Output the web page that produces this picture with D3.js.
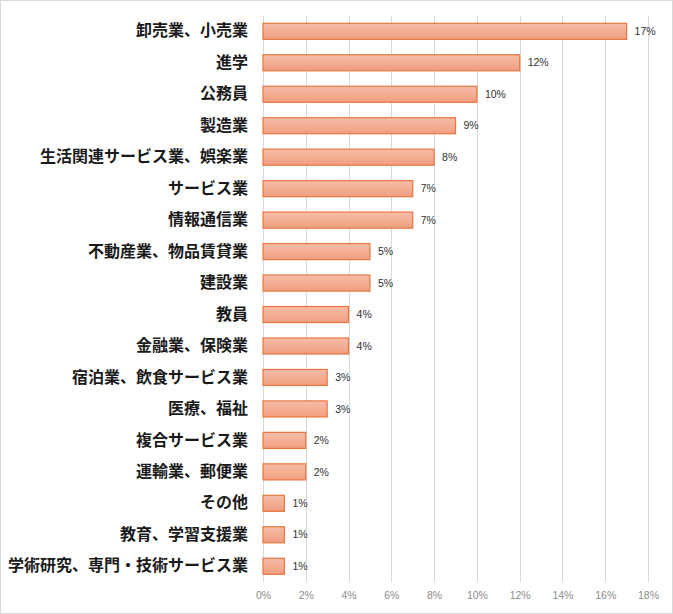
<!DOCTYPE html>
<html>
<head>
<meta charset="utf-8">
<script src="https://cdn.jsdelivr.net/npm/d3@7"></script>
<style>
  body { margin: 0; background: #fff; }
  svg { display: block; }
  .cat text { font-family: "Noto Sans CJK JP", sans-serif; font-weight: bold; font-size: 16px; fill: #1a1a1a; }
  .xaxis text { font-family: "Liberation Sans Narrow", "Liberation Sans", sans-serif; font-size: 10.5px; fill: #8c8c8c; }
  .vlabel { font-family: "Liberation Sans Narrow", "Liberation Sans", sans-serif; font-size: 10.5px; fill: #303030; }
</style>
</head>
<body>
<div id="chart"></div>
<script>
// categories, top to bottom
var categories = ["卸売業、小売業", "進学", "公務員", "製造業", "生活関連サービス業、娯楽業",
  "サービス業", "情報通信業", "不動産業、物品賃貸業", "建設業", "教員", "金融業、保険業",
  "宿泊業、飲食サービス業", "医療、福祉", "複合サービス業", "運輸業、郵便業", "その他",
  "教育、学習支援業", "学術研究、専門・技術サービス業"];
var values = [17, 12, 10, 9, 8, 7, 7, 5, 5, 4, 4, 3, 3, 2, 2, 1, 1, 1];
var ticks = [0, 2, 4, 6, 8, 10, 12, 14, 16, 18];

function draw() {
  const width = 673, height = 614;
  const left = 263, right = 648, top = 15.6, bottom = 582;

  const svg = d3.select("#chart").append("svg")
    .attr("width", width)
    .attr("height", height);

  // outer frame
  svg.append("rect")
    .attr("x", 0.5).attr("y", 0.5)
    .attr("width", width - 1).attr("height", height - 1)
    .attr("fill", "#fff").attr("stroke", "#d9d9d9");

  const defs = svg.append("defs");
  const grad = defs.append("linearGradient")
    .attr("id", "barfill").attr("x1", 0).attr("y1", 0).attr("x2", 0).attr("y2", 1);
  grad.append("stop").attr("offset", "0%").attr("stop-color", "#f6bda8");
  grad.append("stop").attr("offset", "100%").attr("stop-color", "#f09e80");

  const x = d3.scaleLinear().domain([0, 18]).range([left, right]);
  const y = d3.scaleBand().domain(categories).range([top, bottom])
    .paddingInner(0.49).paddingOuter(0.245);

  // gridlines
  svg.append("g").selectAll("line")
    .data(ticks)
    .enter().append("line")
    .attr("x1", d => Math.round(x(d)) + 0.5)
    .attr("x2", d => Math.round(x(d)) + 0.5)
    .attr("y1", top).attr("y2", bottom)
    .attr("stroke", "#d9d9d9");

  // x axis labels
  const xAxis = d3.axisBottom(x).tickValues(ticks).tickSize(0).tickPadding(10)
    .tickFormat(d => d + "%");
  const xg = svg.append("g").attr("class", "xaxis")
    .attr("transform", "translate(0," + bottom + ")")
    .call(xAxis);
  xg.select(".domain").remove();

  // category labels
  const yAxis = d3.axisLeft(y).tickSize(0).tickPadding(15);
  const yg = svg.append("g").attr("class", "cat")
    .attr("transform", "translate(" + left + ",0)")
    .call(yAxis);
  yg.select(".domain").remove();

  // bars
  svg.append("g").selectAll("rect")
    .data(values)
    .enter().append("rect")
    .attr("x", x(0))
    .attr("y", (d, i) => y(categories[i]))
    .attr("width", d => x(d) - x(0))
    .attr("height", y.bandwidth())
    .attr("fill", "url(#barfill)")
    .attr("stroke", "#e9753f")
    .attr("stroke-width", 1.2);

  // value labels
  svg.append("g").selectAll("text")
    .data(values)
    .enter().append("text")
    .attr("class", "vlabel")
    .attr("x", d => x(d) + 8)
    .attr("y", (d, i) => y(categories[i]) + y.bandwidth() / 2)
    .attr("dy", "0.35em")
    .text(d => d + "%");
}

draw();
</script>
</body>
</html>
